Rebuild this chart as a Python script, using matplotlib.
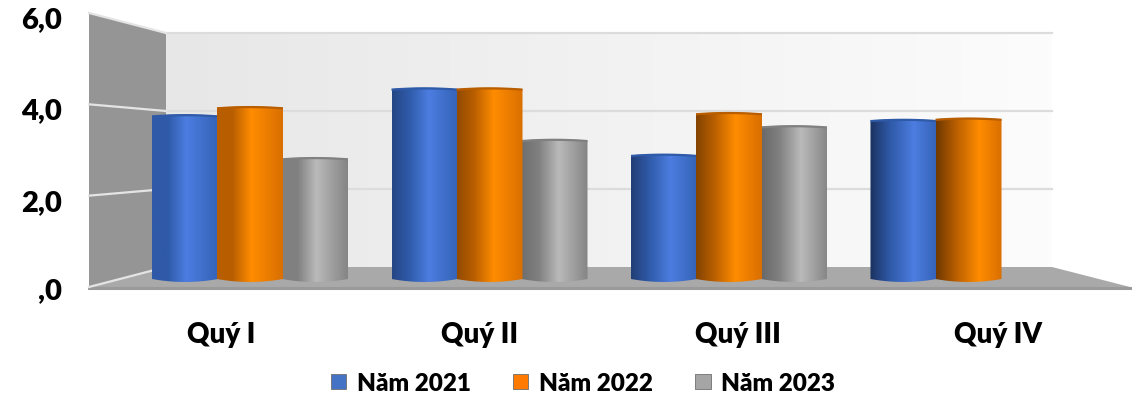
import numpy as np
import matplotlib
matplotlib.use('Agg')
import matplotlib.pyplot as plt
from matplotlib.colors import LinearSegmentedColormap
from matplotlib.patches import Patch, PathPatch, Polygon
from matplotlib.path import Path

plt.rcParams['font.family'] = ['Lato', 'DejaVu Sans']

# ----- data -----
quarters = ['Quý I', 'Quý II', 'Quý III', 'Quý IV']
series_names = ['Năm 2021', 'Năm 2022', 'Năm 2023']
nam_2021 = [3.84, 4.47, 2.91, 3.73]
nam_2022 = [4.03, 4.47, 3.89, 3.76]
nam_2023 = [2.83, 3.26, 3.58, np.nan]
y_ticks = [0, 2, 4, 6]
y_labels = [',0', '2,0', '4,0', '6,0']

# ----- layout, colours -----
W, H = 1147, 410
legend_colors = ['#4472c4', '#ff7a00', '#a5a5a5']
bar_stops = [
    ('#1b3260', '#2f5aa8', '#4c7de0', '#3563b8'),
    ('#6e3800', '#b85e00', '#ff8c00', '#d96f00'),
    ('#5e5e5e', '#808080', '#bababa', '#858585'),
]
# how dark the left side gets and where the highlight sits, per quarter
left_dark = [0.0, 0.5, 0.7, 1.0]
highlight = [0.52, 0.56, 0.60, 0.66]
offsets = [-65, 0, 65]
bar_px = [66, 66, 66]
group_px = 239.5
group_x0 = 250
px_per_unit = 42.5
base_px = 280

fig = plt.figure(figsize=(W / 100, H / 100), dpi=100)

# background "3D" box, in pixels
bg = fig.add_axes([0, 0, 1, 1])
bg.axis('off')

wall = np.linspace(0, 1, 256).reshape(1, -1)
wall_cmap = LinearSegmentedColormap.from_list('wall', ['#e7e7e7', '#f2f2f2', '#fcfcfc'])
bg.imshow(wall, extent=(166, 1052, 268, 34), cmap=wall_cmap, aspect='auto', zorder=1)
bg.set_xlim(0, W)
bg.set_ylim(H, 0)

bg.add_patch(Polygon([(89, 14), (166, 34), (166, 268), (89, 288)], fc='#959595', ec='none', zorder=2))
bg.add_patch(Polygon([(89, 288), (166, 268), (1052, 268), (1130, 288)], fc='#a9a9a9', ec='none', zorder=2))
bg.plot([89, 1130], [289, 289], color='#9a9a9a', lw=2.2, zorder=3)

for t, lab in zip(y_ticks, y_labels):
    back_y = 268 - 39 * t
    front_y = 288 - 45.67 * t
    if t > 0:
        bg.plot([166, 1052], [back_y, back_y], color='#dcdcdc', lw=1.6, zorder=2)
    bg.plot([89, 166], [front_y, back_y], color='#e4e4e4', lw=1.6, zorder=3)
    label_y = front_y + 6 if t > 0 else front_y + 3
    bg.text(62, label_y, lab, ha='right', va='center',
            fontsize=21, fontweight='heavy', color='black')

label_x = [221, 480, 738, 998]
for x, q in zip(label_x, quarters):
    bg.text(x, 335, q, ha='center', va='center', fontsize=20, fontweight='heavy', color='black')

# bars, in data units
ax = fig.add_axes([0, 0, 1, 1])
ax.patch.set_alpha(0)
ax.axis('off')
xlim = (-group_x0 / group_px, (W - group_x0) / group_px)
ylim = ((base_px - H) / px_per_unit, base_px / px_per_unit)


def draw_bar(center, width, value, s, q):
    left_c, edge_c, mid_c, right_c = bar_stops[s]
    d = left_dark[q]
    first = tuple((1 - d) * a + d * b for a, b in zip(matplotlib.colors.to_rgb(edge_c),
                                                     matplotlib.colors.to_rgb(left_c)))
    cmap = LinearSegmentedColormap.from_list(
        'bar', [(0, first), (highlight[q] * 0.45, edge_c), (highlight[q], mid_c), (1, right_c)])
    x0, x1 = center - width / 2, center + width / 2
    t = np.linspace(-1, 1, 40)
    xs = center + t * width / 2
    bottom = -0.07 * (1 - t ** 2)
    top = value + 0.03 * (1 - t ** 2)
    verts = list(zip(xs, bottom)) + list(zip(xs[::-1], top[::-1])) + [(xs[0], bottom[0])]
    codes = [Path.MOVETO] + [Path.LINETO] * (len(verts) - 2) + [Path.CLOSEPOLY]
    clip = PathPatch(Path(verts, codes), fc='none', ec='none', transform=ax.transData)
    ax.add_patch(clip)
    im = ax.imshow(np.linspace(0, 1, 128).reshape(1, -1), extent=(x0, x1, -0.1, value + 0.05),
                   cmap=cmap, aspect='auto', zorder=4 + z_order[s])
    im.set_clip_path(clip)
    ax.plot(xs, top - 0.015, color=edge_c, lw=1.6, zorder=4.5 + z_order[s], solid_capstyle='butt')


z_order = [1, 2, 0]
for s, values in enumerate([nam_2021, nam_2022, nam_2023]):
    for q, v in enumerate(values):
        if np.isnan(v):
            continue
        draw_bar(q + offsets[s] / group_px, bar_px[s] / group_px, v, s, q)

ax.set_xlim(xlim)
ax.set_ylim(ylim)

handles = [Patch(fc=c, ec='#6f6f6f', lw=0.6) for c in legend_colors]
ax.legend(handles, series_names, ncol=3, frameon=False, loc='center',
          bbox_to_anchor=(583 / W, 1 - 384 / H), prop={'size': 17.5, 'weight': 'heavy'},
          handlelength=0.62, handleheight=0.62, handletextpad=0.45, columnspacing=1.75,
          borderpad=0, borderaxespad=0)

fig.savefig('out.png', dpi=100)
